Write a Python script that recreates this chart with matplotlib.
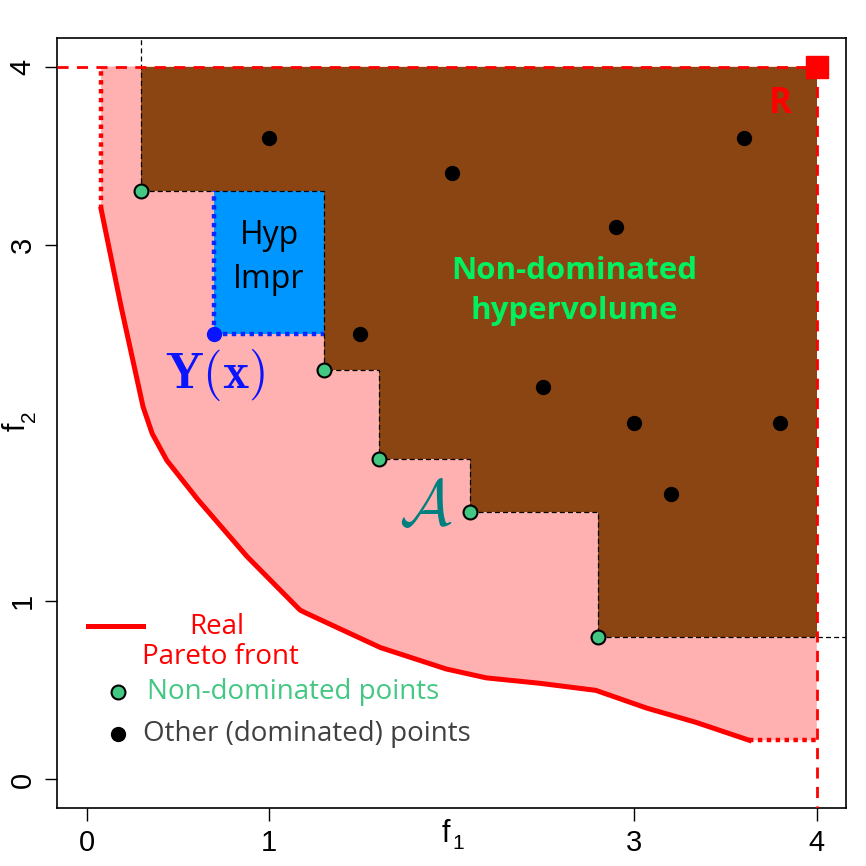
import matplotlib
matplotlib.use("Agg")
import matplotlib.pyplot as plt
import numpy as np

plt.rcParams['mathtext.fontset'] = 'cm'

# ---- data ----
front_x = [0.08, 0.19, 0.31, 0.36, 0.44, 0.61, 0.88, 1.17, 1.21, 1.61, 1.97, 2.19, 2.48, 2.79, 3.07, 3.34, 3.63]
front_y = [3.20, 2.65, 2.09, 1.94, 1.79, 1.57, 1.25, 0.95, 0.93, 0.74, 0.62, 0.57, 0.54, 0.50, 0.40, 0.32, 0.22]
nd_x = [0.3, 1.3, 1.6, 2.1, 2.8]
nd_y = [3.3, 2.3, 1.8, 1.5, 0.8]
dom_x = [1.0, 2.0, 3.6, 2.9, 1.5, 2.5, 3.0, 3.8, 3.2]
dom_y = [3.6, 3.4, 3.6, 3.1, 2.5, 2.2, 2.0, 2.0, 1.6]
ref_pt = [4.0, 4.0]
new_pt = [0.7, 2.5]
x_ticks = [0, 1, 3, 4]
y_ticks = [0, 1, 3, 4]

C_PINK = '#FFB1B1'
C_BROWN = '#8B4513'
C_BLUE = '#0096FF'
C_GREEN_PT = '#43C883'
C_GREEN_TXT = '#00F060'

fig = plt.figure(figsize=(8.66, 8.66), dpi=100)
ax = fig.add_axes([57.3/866, 58/866, (846-57.3)/866, (808-38)/866])
ax.set_xlim(-0.16, 4.16)
ax.set_ylim(-0.16, 4.16)

rx, ry = ref_pt

# pink region between front and reference
px = [front_x[0]] + front_x + [rx, rx]
py = [ry] + front_y + [front_y[-1], ry]
ax.fill(px, py, color=C_PINK, lw=0, zorder=1)

# staircase (dominated region)
sx = [nd_x[0]]
sy = [ry]
for i in range(len(nd_x)):
    sx.append(nd_x[i]); sy.append(nd_y[i])
    nxt = nd_x[i+1] if i+1 < len(nd_x) else rx
    sx.append(nxt); sy.append(nd_y[i])
ax.fill(sx + [rx], sy + [ry], color=C_BROWN, lw=0, zorder=2)

# hypervolume improvement box
bx0, by0 = new_pt
bx1 = nd_x[1]
by1 = nd_y[0]
ax.fill([bx0, bx1, bx1, bx0], [by0, by0, by1, by1], color=C_BLUE, lw=0, zorder=3)

# staircase dashed line
ax.plot(sx[1:-1], sy[1:-1], color='black', ls=(0, (4, 2.5)), lw=0.9, zorder=4)
ax.plot([nd_x[0], nd_x[0]], [nd_y[0], 4.16], color='black', ls=(0, (4, 2.5)), lw=0.9, zorder=4)
ax.plot([nd_x[-1], 4.16], [nd_y[-1], nd_y[-1]], color='black', ls=(0, (4, 2.5)), lw=0.9, zorder=4)

# reference dashed red lines
ax.plot([-0.16, rx], [ry, ry], color='red', ls=(0, (4, 3)), lw=2, zorder=5)
ax.plot([rx, rx], [ry, -0.16], color='red', ls=(0, (4, 3)), lw=2, zorder=5)

# front
ax.plot(front_x, front_y, color='red', lw=3.6, zorder=6, solid_joinstyle='round')
ax.plot([front_x[0], front_x[0]], [front_y[0], ry], color='red', lw=3.2, ls=(0, (1, 1)), zorder=6)
ax.plot([front_x[-1], rx], [front_y[-1], front_y[-1]], color='red', lw=3.2, ls=(0, (1, 1)), zorder=6)

# blue dotted edges
ax.plot([bx0, bx0], [by0, by1], color='#0A28FF', lw=3.2, ls=(0, (1, 1)), zorder=6)
ax.plot([bx0, bx1], [by0, by0], color='#0A28FF', lw=3.2, ls=(0, (1, 1)), zorder=6)

# points
ax.plot(dom_x, dom_y, 'o', color='black', ms=10, zorder=7)
ax.plot(nd_x, nd_y, 'o', mfc=C_GREEN_PT, mec='black', mew=1.5, ms=10, zorder=7)
ax.plot([new_pt[0]], [new_pt[1]], 'o', color='#0A14FF', ms=10, zorder=7)
ax.plot([rx], [ry], 's', color='red', ms=16, zorder=8, clip_on=False)

# texts
ax.text(1.0, 2.93, 'Hyp\nImpr', ha='center', va='center', fontsize=23,
        family='Open Sans', color='black', linespacing=1.45, zorder=9)
ax.text(2.67, 2.74, 'Non-dominated\nhypervolume', ha='center', va='center', fontsize=22.5,
        family='Open Sans', weight='bold', color=C_GREEN_TXT, linespacing=1.45, zorder=9)
ax.text(3.80, 3.79, 'R', ha='center', va='center', fontsize=25, family='Open Sans',
        weight='bold', color='red', zorder=9)
ax.text(0.705, 2.27, r'$\mathbf{Y}(\mathbf{x})$', ha='center', va='center', fontsize=36,
        color='#0A14FF', zorder=9)
ax.text(1.86, 1.53, r'$\mathcal{A}$', ha='center', va='center', fontsize=46,
        color='#008080', zorder=9)

# legend (manual)
ax.plot([0.01, 0.31], [0.86, 0.86], color='red', lw=3.6, zorder=9)
ax.text(0.715, 0.855, 'Real', ha='center', va='center', fontsize=20, family='Open Sans', color='red')
ax.text(0.735, 0.685, 'Pareto front', ha='center', va='center', fontsize=20, family='Open Sans', color='red')
ax.plot([0.17], [0.49], 'o', mfc=C_GREEN_PT, mec='black', mew=1.5, ms=10, zorder=9)
ax.text(0.33, 0.49, 'Non-dominated points', ha='left', va='center', fontsize=20,
        family='Open Sans', color=C_GREEN_PT)
ax.plot([0.17], [0.255], 'o', color='black', ms=10, zorder=9)
ax.text(0.31, 0.255, 'Other (dominated) points', ha='left', va='center', fontsize=20,
        family='Open Sans', color='#404040')

# axes styling
ax.set_xticks(x_ticks)
ax.set_yticks(y_ticks)
ax.set_xticklabels([str(t) for t in x_ticks], fontsize=21, family='Liberation Sans')
ax.set_yticklabels([str(t) for t in y_ticks], fontsize=21, family='Liberation Sans',
                   rotation=90, va='center')
ax.tick_params(direction='out', length=9, width=1, pad=6)
for s in ax.spines.values():
    s.set_linewidth(1.2)

# axis labels f1 / f2 (placed in the tick label row, as in the original)
ax.annotate('f', xy=(0.5, 0), xycoords='axes fraction', xytext=(-4, -8),
            textcoords='offset points', ha='center', va='top', fontsize=22, family='Liberation Sans')
ax.annotate('1', xy=(0.5, 0), xycoords='axes fraction', xytext=(5, -19),
            textcoords='offset points', ha='center', va='top', fontsize=15, family='Liberation Sans')
ax.annotate('f', xy=(0, 2.0), xycoords=('axes fraction', 'data'), xytext=(-29, -3),
            textcoords='offset points', ha='center', va='center', rotation=90, fontsize=22,
            family='Liberation Sans')
ax.annotate('2', xy=(0, 2.0), xycoords=('axes fraction', 'data'), xytext=(-20, 5),
            textcoords='offset points', ha='center', va='center', rotation=90, fontsize=15,
            family='Liberation Sans')

fig.savefig('out.png', dpi=100)
